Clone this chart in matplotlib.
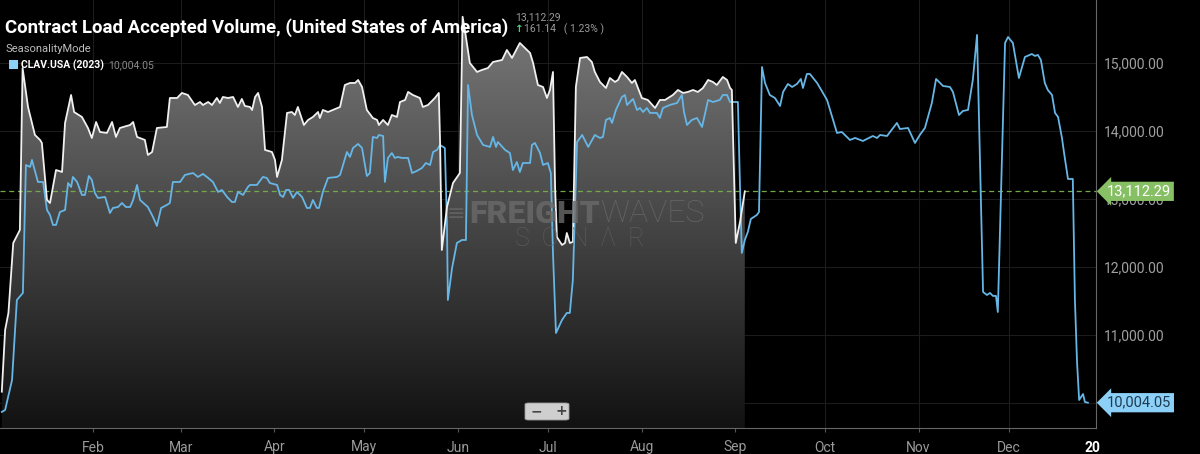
import numpy as np
import matplotlib
matplotlib.use("Agg")
import matplotlib.pyplot as plt
from matplotlib.colors import LinearSegmentedColormap
from matplotlib.patches import Rectangle, FancyBboxPatch

# ---- data (day of year, volume) ----
days_2024 = [0.6, 1.7, 2.8, 4.4, 6.6, 7.5, 9.3, 11.6, 13.3, 13.9, 15.6, 16.6, 18.6, 20.6, 21.6,
             23.6, 24.6, 27.2, 29.2, 30.5, 31.9, 33.2, 35.5, 37.2, 38.5, 39.8, 43.2, 44.2, 45.5,
             48.1, 49.1, 50.5, 52.1, 55.4, 56.4, 58.8, 60.4, 62.4, 64.7, 66.4, 67.4, 69.1, 70.4,
             72.0, 73.0, 74.0, 75.7, 77.4, 79.0, 80.3, 81.3, 83.0, 83.7, 84.7, 85.7, 87.0, 88.0,
             90.3, 91.3, 92.0, 93.6, 95.3, 96.9, 97.9, 98.9, 100.9, 102.3, 103.9, 105.6, 106.2,
             107.2, 108.9, 112.9, 114.5, 116.2, 117.9, 118.9, 120.2, 121.8, 123.8, 125.2, 125.8,
             127.2, 128.8, 130.1, 131.8, 132.8, 134.5, 135.5, 137.1, 139.4, 140.4, 142.1, 144.4,
             145.7, 146.1, 146.7, 148.4, 150.4, 152.7, 153.6, 154.4, 156.0, 158.4, 160.0, 162.0,
             163.7, 166.7, 168.3, 170.0, 172.6, 176.0, 177.0, 178.6, 180.3, 181.6, 182.6, 183.6,
             184.3, 184.9, 186.6, 187.6, 188.2, 189.2, 190.2, 191.2, 192.6, 194.9, 196.5, 197.5,
             199.2, 201.2, 202.5, 204.2, 205.2, 206.5, 208.2, 209.8, 210.8, 213.1, 215.1, 217.5,
             219.1, 220.8, 222.4, 223.4, 225.1, 226.8, 228.4, 230.1, 231.7, 233.4, 235.1, 236.7,
             238.0, 240.0, 241.4, 242.4, 243.0, 244.3, 245.7, 247.3]
vals_2024 = [10166, 11074, 11324, 12353, 12544, 14926, 14353, 13941, 13868, 13824, 12985, 12941,
             13426, 13397, 14118, 14529, 14279, 14206, 14044, 13897, 14132, 13985, 13971, 14132,
             13912, 14044, 14088, 14132, 13912, 13868, 13647, 13691, 14044, 14059, 14485, 14485,
             14559, 14529, 14382, 14426, 14382, 14426, 14382, 14485, 14412, 14500, 14485, 14500,
             14353, 14471, 14368, 14353, 14309, 14500, 14559, 14353, 13721, 13691, 13574, 13324,
             13574, 14265, 14279, 14235, 14353, 14088, 14162, 14206, 14279, 14191, 14309, 14279,
             14353, 14676, 14706, 14706, 14750, 14647, 14309, 14191, 14162, 14088, 14162, 14088,
             14235, 14206, 14426, 14456, 14574, 14529, 14485, 14353, 14382, 14485, 14559, 13868,
             12250, 12882, 13235, 13382, 15680, 15470, 15000, 14868, 14897, 14926, 15015, 15044,
             15191, 15074, 15294, 15147, 15000, 14676, 14647, 14485, 14603, 14868, 13176, 12441,
             12324, 12353, 12500, 12353, 12368, 14647, 15074, 15088, 15015, 14868, 14721, 14632,
             14779, 14721, 14750, 14868, 14794, 14706, 14750, 14485, 14456, 14338, 14456, 14456,
             14500, 14529, 14603, 14559, 14574, 14603, 14574, 14632, 14750, 14721, 14676, 14794,
             14750, 14632, 14603, 12353, 12662, 13112.29]

days_2023 = [0.6, 1.7, 4.0, 5.6, 7.6, 8.6, 10.0, 10.6, 12.6, 14.3, 15.6, 16.6, 17.6, 18.6, 19.9,
             21.6, 22.6, 23.6, 24.2, 25.6, 27.2, 28.2, 29.5, 30.5, 31.5, 32.5, 34.9, 36.5, 37.5,
             39.2, 40.5, 41.8, 43.2, 44.2, 45.5, 46.5, 49.1, 50.8, 52.1, 53.5, 55.4, 56.4, 57.4,
             59.8, 61.4, 64.1, 65.7, 67.4, 69.1, 70.7, 72.4, 73.7, 75.4, 77.0, 78.0, 79.0, 80.7,
             82.3, 83.0, 85.3, 87.3, 88.6, 89.6, 92.0, 93.0, 94.0, 95.0, 96.0, 97.3, 98.6, 100.3,
             101.9, 102.9, 103.9, 105.2, 105.9, 107.2, 108.9, 111.9, 112.9, 115.2, 116.2, 117.2,
             118.9, 120.2, 121.8, 122.8, 123.8, 125.2, 125.8, 127.2, 127.8, 128.8, 130.1, 131.1,
             132.1, 133.5, 135.5, 136.8, 138.4, 140.1, 141.4, 142.8, 143.8, 145.1, 146.1, 147.7,
             148.4, 148.7, 150.1, 151.7, 153.4, 154.7, 155.4, 156.7, 158.4, 160.4, 162.7, 163.7,
             164.7, 165.3, 167.7, 169.3, 170.3, 171.6, 172.6, 173.6, 176.0, 176.6, 177.6, 179.3,
             180.3, 181.9, 182.9, 183.6, 184.6, 186.6, 188.2, 189.2, 190.2, 191.6, 193.3, 195.3,
             197.5, 199.2, 200.2, 201.2, 202.5, 203.2, 204.5, 206.5, 207.5, 208.2, 209.8, 210.2,
             211.5, 212.5, 213.5, 214.8, 215.8, 218.1, 219.1, 220.1, 222.4, 224.8, 226.4, 227.1,
             228.1, 229.7, 231.4, 233.1, 235.1, 236.7, 239.0, 240.0, 241.4, 242.4, 245.0, 245.7,
             246.3, 247.3, 248.3, 249.3, 251.3, 252.0, 253.0, 254.0, 255.6, 257.3, 259.0, 260.0,
             261.6, 263.0, 264.6, 265.9, 266.6, 267.9, 268.9, 271.3, 274.6, 277.9, 279.5, 282.2,
             283.9, 286.5, 289.8, 291.2, 292.2, 294.5, 297.8, 298.8, 301.5, 303.8, 305.4, 307.1,
             309.4, 310.8, 313.1, 315.4, 316.4, 318.4, 319.7, 321.4, 323.0, 324.4, 326.4, 327.7,
             328.7, 329.7, 330.7, 331.3, 333.7, 334.7, 336.3, 338.3, 340.3, 342.6, 343.6, 344.6,
             345.6, 346.9, 347.9, 349.3, 350.3, 351.3, 352.6, 353.3, 354.6, 356.2, 356.9, 357.6,
             358.3, 359.6, 360.2, 361.2]
vals_2023 = [9868, 9897, 10338, 11515, 11618, 13500, 13471, 13574, 13250, 13250, 12838, 12765,
             12618, 12618, 12809, 12838, 13235, 13176, 13324, 13250, 13059, 13059, 13338, 13279,
             13088, 13015, 13029, 12794, 12868, 12882, 12941, 12882, 12882, 12985, 13206, 12985,
             12882, 12735, 12603, 12868, 12912, 12941, 13250, 13250, 13353, 13382, 13324, 13368,
             13309, 13250, 13103, 13132, 13029, 12956, 12956, 13103, 13059, 13176, 13206, 13206,
             13324, 13309, 13235, 13206, 13059, 13029, 13132, 13132, 13015, 13103, 13029, 12868,
             12868, 12985, 12868, 12868, 13103, 13309, 13324, 13353, 13691, 13618, 13750, 13809,
             13750, 13338, 13382, 13912, 13897, 13941, 13926, 13250, 13603, 13676, 13603, 13618,
             13603, 13603, 13382, 13412, 13456, 13529, 13500, 13691, 13721, 13794, 13750, 12647,
             11515, 11985, 12353, 12397, 12397, 14676, 14235, 13941, 13794, 13765, 13912, 13765,
             13838, 13721, 13676, 13426, 13544, 13397, 13529, 13529, 13794, 13824, 13676, 13500,
             13529, 13382, 12206, 11029, 11221, 11324, 11324, 11809, 13838, 13941, 13765, 13941,
             13897, 13912, 14162, 14191, 14118, 14309, 14500, 14529, 14382, 14456, 14471, 14309,
             14338, 14279, 14338, 14265, 14265, 14191, 14338, 14382, 14412, 14529, 14279, 14088,
             14162, 14191, 14059, 14456, 14426, 14456, 14529, 14529, 14426, 14426, 13176, 12206,
             12397, 12515, 12706, 12765, 12809, 14941, 14706, 14529, 14485, 14368, 14574, 14691,
             14647, 14691, 14765, 14632, 14838, 14838, 14706, 14456, 13971, 13985, 13868, 13897,
             13853, 13926, 13897, 13941, 13926, 14118, 14029, 14044, 13824, 13941, 14044, 14412,
             14765, 14662, 14647, 14574, 14235, 14294, 14309, 14750, 15412, 11632, 11588, 11618,
             11574, 11574, 11338, 15294, 15382, 15294, 14779, 15088, 15132, 15103, 15118, 15044,
             14706, 14603, 14529, 14265, 14206, 13897, 13676, 13294, 13294, 11515, 10603, 10044,
             10132, 10015, 10004.05]

month_days = [31, 60, 91, 121, 152, 182, 213, 244, 274, 305, 335, 362.6]
month_labels = ["Feb", "Mar", "Apr", "May", "Jun", "Jul", "Aug", "Sep", "Oct", "Nov", "Dec", "20"]
y_ticks = [11000, 12000, 13000, 14000, 15000]

last_2024 = vals_2024[-1]
last_2023 = vals_2023[-1]
change = 161.14
change_pct = 1.23

W, H = 1200, 454
fig = plt.figure(figsize=(W / 100, H / 100), dpi=100, facecolor="black")
ax = fig.add_axes([0, 26 / H, 1096 / W, 1 - 26 / H])
ax.set_facecolor("black")
ax.set_xlim(0, 363.9)
ax.set_ylim(9632, 15926)

# grid
for yv in y_ticks + [10000]:
    ax.axhline(yv, color="#1c1c1c", lw=0.8, zorder=0)
for d in month_days[:-1]:
    ax.axvline(d, color="#1c1c1c", lw=0.8, zorder=0)

# gradient fill under the current year
xs = np.array(days_2024)
ys = np.array(vals_2024)
poly = ax.fill_between(xs, ys, 9632, color="none", lw=0)
grad_cmap = LinearSegmentedColormap.from_list("g", ["#121212", "#7e7e7e"])
grad = np.linspace(0, 1, 256).reshape(-1, 1)
img = ax.imshow(grad, cmap=grad_cmap, aspect="auto", origin="lower",
                extent=[0, 363.9, 9632, 15926], zorder=1)
img.set_clip_path(poly.get_paths()[0], transform=ax.transData)

ax.plot(days_2023, vals_2023, color="#66b6e6", lw=1.3, zorder=3)
ax.plot(days_2024, vals_2024, color="#f0f0f0", lw=1.3, zorder=4)

ax.axhline(last_2024, color="#74a84a", lw=0.9, ls=(0, (4, 3)), zorder=2)

# axes styling
for s in ["top", "left"]:
    ax.spines[s].set_visible(False)
ax.spines["bottom"].set_color("#666666")
ax.spines["right"].set_color("#666666")
ax.yaxis.tick_right()
ax.set_yticks(y_ticks)
ax.set_yticklabels([f"{v:,.2f}" for v in y_ticks], color="#a0a0a0", fontsize=10, family="Roboto")
ax.tick_params(axis="y", length=0, pad=6)
ax.set_xticks(month_days)
ax.set_xticklabels(month_labels, color="#9a9a9a", fontsize=10, family="Roboto")
ax.tick_params(axis="x", length=3, color="#555555", pad=6)
xt = ax.get_xticklabels()
xt[-1].set_color("white")
xt[-1].set_fontweight("bold")
ax.get_xticklines()[-2].set_visible(False)

# last value tags
ax.annotate(f"{last_2024:,.2f}", xy=(1, last_2024), xycoords=("axes fraction", "data"),
            xytext=(8, 0), textcoords="offset points", va="center", ha="left",
            color="white", fontsize=10.5, family="Roboto",
            bbox=dict(boxstyle="larrow,pad=0.18", fc="#86bf64", ec="none"), zorder=10,
            annotation_clip=False)
ax.annotate(f"{last_2023:,.2f}", xy=(1, last_2023), xycoords=("axes fraction", "data"),
            xytext=(8, 0), textcoords="offset points", va="center", ha="left",
            color="#1e3a4f", fontsize=10.5, family="Roboto",
            bbox=dict(boxstyle="larrow,pad=0.18", fc="#8cd0f7", ec="none"), zorder=10,
            annotation_clip=False)

# header texts
fig.text(5 / W, 1 - 28 / H, "Contract Load Accepted Volume, (United States of America)",
         color="white", fontsize=13.4, fontweight="bold", family="Roboto", va="center")
fig.text(515 / W, 1 - 17 / H, f"{last_2024:,.2f}", color="#9a9a9a", fontsize=7.5,
         family="Roboto", va="center")
fig.text(515 / W, 1 - 29 / H, "\u2191", color="#4fd17a", fontsize=7.5, family="DejaVu Sans",
         va="center", fontweight="bold")
fig.text(524 / W, 1 - 29 / H, f"{change:.2f}   ( {change_pct:.2f}% )", color="#9a9a9a",
         fontsize=7.5, family="Roboto", va="center")
fig.text(5 / W, 1 - 49 / H, "SeasonalityMode", color="#bdbdbd", fontsize=8, family="Roboto",
         va="center")
fig.patches.append(Rectangle((9 / W, 1 - 69 / H), 9 / W, 9 / H, transform=fig.transFigure,
                             fc="#8cd0f7", ec="none"))
fig.text(21 / W, 1 - 65 / H, "CLAV.USA (2023)", color="white", fontsize=7.5,
         fontweight="bold", family="Roboto", va="center")
fig.text(108 / W, 1 - 65 / H, f"{last_2023:,.2f}", color="#8a8a8a", fontsize=7.5,
         family="Roboto", va="center")

# watermark
fig.text(600 / W, 1 - 214 / H, "FREIGHT", color="#6a6a6a", fontsize=23, fontweight="heavy",
         family="Roboto", va="center", ha="right", alpha=0.8)
fig.text(600 / W, 1 - 214 / H, "WAVES", color="#6a6a6a", fontsize=23, fontweight="light",
         family="Roboto", va="center", ha="left", alpha=0.8)
fig.text(580 / W, 1 - 239 / H, "S  O  N  \u039b  R", color="#606060", fontsize=18,
         fontweight="light", family="Roboto", va="center", ha="center", alpha=0.8)
fig.text(456 / W, 1 - 214 / H, "\u2261", color="#6a6a6a", fontsize=16, family="DejaVu Sans",
         va="center", ha="center", alpha=0.7)

# zoom buttons
fig.patches.append(FancyBboxPatch((525 / W, 1 - 420 / H), 44 / W, 17 / H,
                                  boxstyle="round,pad=0,rounding_size=0.003",
                                  transform=fig.transFigure, fc="#cfcfcf", ec="#999999", lw=0.6))
fig.text(536 / W, 1 - 411 / H, "\u2212", color="#444444", fontsize=10, fontweight="bold",
         ha="center", va="center")
fig.text(561 / W, 1 - 411 / H, "+", color="#444444", fontsize=10, fontweight="bold",
         ha="center", va="center")

fig.savefig("out.png", dpi=100, facecolor="black")
